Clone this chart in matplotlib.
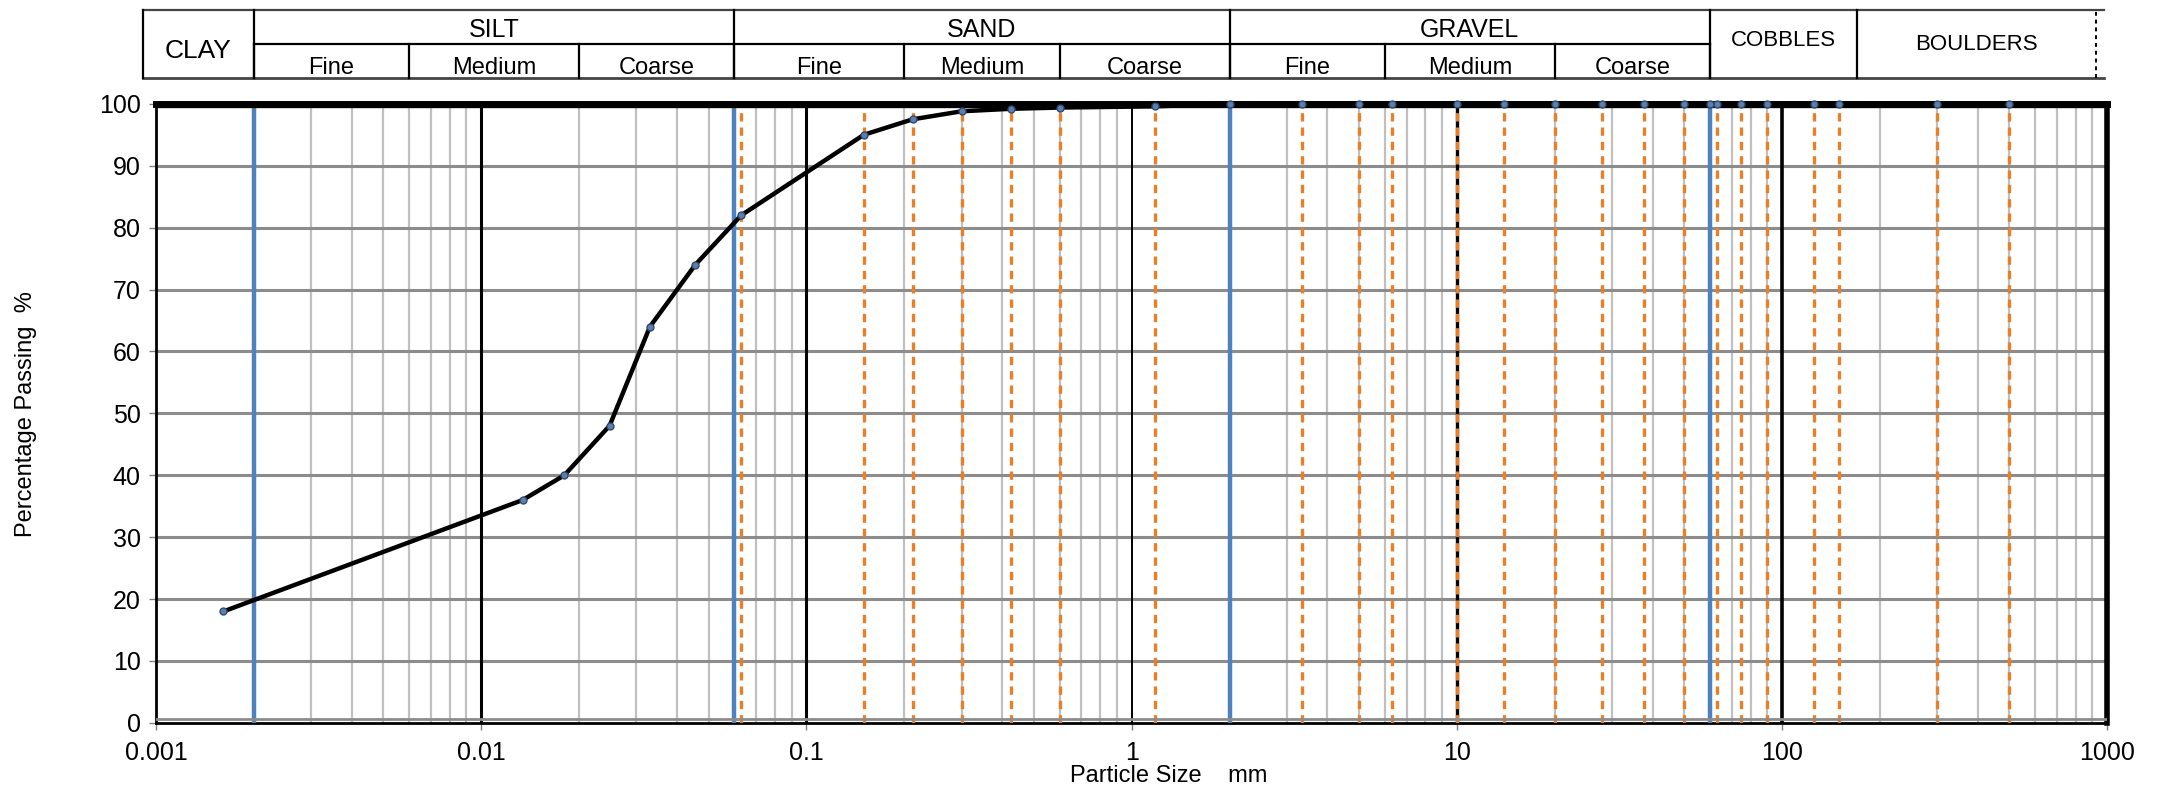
import numpy as np
import matplotlib
matplotlib.use('Agg')
import matplotlib.pyplot as plt
from matplotlib.ticker import FixedLocator, NullFormatter

plt.rcParams['font.family'] = ['Liberation Sans', 'DejaVu Sans']

# grading curve
size_mm = [0.00161, 0.0134, 0.018, 0.0248, 0.033, 0.0455, 0.063, 0.15, 0.212,
           0.3, 0.425, 0.6, 1.18, 2, 3.35, 5, 6.3, 10, 14, 20, 28, 37.5, 50,
           60, 63, 75, 90, 125, 150, 300, 500]
passing = [18, 36, 40, 48, 64, 74, 82, 95, 97.5,
           98.8, 99.2, 99.4, 99.6, 100, 100, 100, 100, 100, 100, 100, 100, 100, 100,
           100, 100, 100, 100, 100, 100, 100, 100]

# sieve sizes (orange dashed) and class boundaries (blue)
sieves = [0.063, 0.15, 0.212, 0.3, 0.425, 0.6, 1.18, 3.35, 5, 6.3, 10, 14, 20,
          28, 37.5, 50, 63, 75, 90, 125, 150, 300, 500]
boundaries = [0.002, 0.06, 2, 60]

# header table
main_classes = ['SILT', 'SAND', 'GRAVEL']
main_edges = [0.002, 0.06, 2, 60]
sub_classes = ['Fine', 'Medium', 'Coarse']
sub_edges = [0.002, 0.006, 0.02, 0.06, 0.2, 0.6, 2, 6.0, 20, 60]
head_left = 0.00091
cobble_edge = 170
head_right = 920

blue = '#4F81BD'
orange = '#E8802A'

fig = plt.figure(figsize=(21.68, 8.05), dpi=100)
ax = fig.add_axes([0.072, 0.102, 0.9, 0.769])
ax.set_xscale('log')
ax.set_xlim(0.001, 1000)
ax.set_ylim(0, 100)

# grid
minor = [m * 10.0 ** e for e in range(-3, 3) for m in range(2, 10)]
for x in minor:
    ax.axvline(x, color='#c0c0c0', lw=1.6, zorder=1)
for y in range(10, 100, 10):
    ax.axhline(y, color='#8c8c8c', lw=2.2, zorder=1)
for x, lw in [(0.01, 2.2), (0.1, 2.2), (1, 1.4), (100, 2.6)]:
    ax.axvline(x, color='black', lw=lw, zorder=2)
ax.axvline(10, color='black', lw=2.4, zorder=2)

for x in boundaries:
    ax.axvline(x, color=blue, lw=3.2, zorder=3)
for x in sieves:
    ax.axvline(x, color=orange, lw=2.4, ls=(0, (2.5, 1.8)), zorder=3)

ax.plot(size_mm, passing, color='black', lw=3.2, zorder=5, clip_on=False,
        marker='o', ms=5, mfc='#5b7fb0', mec='#334a6b', mew=1)
ax.axhline(100, color='black', lw=6, zorder=4)

for s in ['left', 'bottom']:
    ax.spines[s].set_linewidth(2)
ax.spines['top'].set_linewidth(5)
ax.spines['right'].set_linewidth(4)
ax.axhline(0.6, color='#8c8c8c', lw=2, zorder=4)

ax.xaxis.set_major_locator(FixedLocator([0.001, 0.01, 0.1, 1, 10, 100, 1000]))
ax.xaxis.set_minor_formatter(NullFormatter())
ax.tick_params(axis='x', which='minor', length=0)
ax.set_xticklabels(['0.001', '0.01', '0.1', '1', '10', '100', '1000'])
ax.set_yticks(range(0, 101, 10))
ax.tick_params(axis='both', which='major', labelsize=18, length=5, width=1,
               color='#808080', pad=6)
ax.tick_params(axis='x', pad=8)

fig.text(0.012, 0.486, 'Percentage Passing  %', rotation=90, fontsize=17,
         ha='center', va='center')
fig.text(0.539, 0.036, 'Particle Size    mm', fontsize=17, ha='center', va='center')

# header
hx = fig.add_axes([0.072, 0.903, 0.9, 0.084])
hx.set_xscale('log')
hx.set_xlim(0.001, 1000)
hx.set_ylim(0, 2)
hx.axis('off')
kw = dict(color='black', lw=1.6, clip_on=False)
hx.plot([head_left, head_right * 1.06], [2, 2], color='#444444', lw=1.6, clip_on=False)
hx.plot([head_left, head_right * 1.06], [0, 0], color='#444444', lw=2, clip_on=False)
hx.plot([main_edges[0], main_edges[-1]], [1, 1], **kw)
for x in [head_left] + main_edges + [cobble_edge]:
    hx.plot([x, x], [0, 2], **kw)
for x in sub_edges:
    hx.plot([x, x], [0, 1], **kw)
hx.plot([head_right, head_right], [0, 2], color='black', lw=1.4, ls=(0, (2, 2)),
        clip_on=False)


def gmid(a, b):
    return np.sqrt(a * b)


hx.text(gmid(head_left, 0.002), 0.8, 'CLAY', fontsize=19, ha='center', va='center')
for name, a, b in zip(main_classes, main_edges[:-1], main_edges[1:]):
    hx.text(gmid(a, b), 1.42, name, fontsize=18, ha='center', va='center')
for i, (a, b) in enumerate(zip(sub_edges[:-1], sub_edges[1:])):
    hx.text(gmid(a, b), 0.3, sub_classes[i % 3], fontsize=17, ha='center',
            va='center')
hx.text(gmid(60, cobble_edge), 1.1, 'COBBLES', fontsize=16, ha='center', va='center')
hx.text(gmid(cobble_edge, head_right), 1.0, 'BOULDERS', fontsize=16, ha='center',
        va='center')

fig.savefig('out.png', dpi=100)
